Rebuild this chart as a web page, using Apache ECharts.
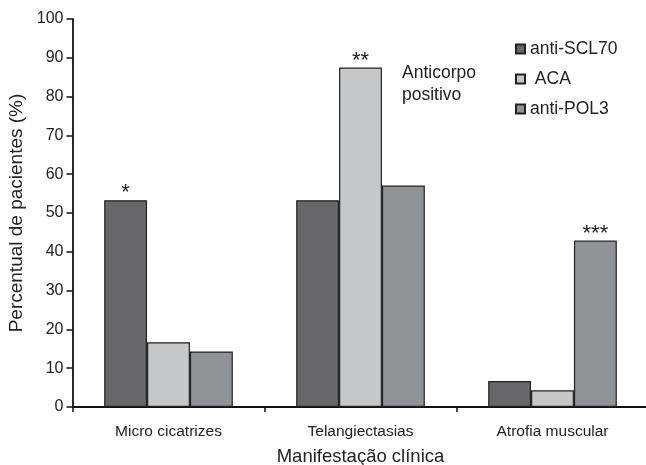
<!DOCTYPE html>
<html><head><meta charset="utf-8">
<script src="https://cdn.jsdelivr.net/npm/echarts@6/dist/echarts.min.js"></script>
<style>html,body{margin:0;padding:0;background:#fff}#c{width:646px;height:465px}</style>
</head><body><div id="c"></div>
<script>
const categories = ['Micro cicatrizes', 'Telangiectasias', 'Atrofia muscular'];
const seriesNames = ['anti-SCL70', ' ACA', 'anti-POL3'];
const antiSCL70 = [53.3, 53.3, 6.7];
const aca = [16.7, 87.5, 4.3];
const antiPOL3 = [14.3, 57.1, 42.9];
const starsSCL70 = ['*', '', ''];
const starsACA = ['', '**', ''];
const starsPOL3 = ['', '', '***'];
const yTicks = [0, 10, 20, 30, 40, 50, 60, 70, 80, 90, 100];

const colors = ['#67676a', '#c6c7c9', '#919295'];
const font = '"Liberation Sans", Arial, sans-serif';
const values = [antiSCL70, aca, antiPOL3];
const stars = [starsSCL70, starsACA, starsPOL3];

const chart = echarts.init(document.getElementById('c'));
chart.setOption({
  animation: false,
  textStyle: { fontFamily: font },
  grid: { left: 72.5, width: 576, top: 19, bottom: 58, containLabel: false, outerBoundsMode: 'none' },
  legend: {
    orient: 'vertical', left: 515, top: 40, padding: 0,
    itemWidth: 9, itemHeight: 9, itemGap: 12,
    icon: 'rect',
    textStyle: { fontFamily: font, fontSize: 17.5, color: '#222' },
    data: seriesNames
  },
  graphic: [{
    type: 'text', left: 402, top: 62,
    style: { text: 'Anticorpo\npositivo', fontFamily: font, fontSize: 17.5, fill: '#222', lineHeight: 22 }
  }],
  xAxis: {
    type: 'category', data: categories,
    name: 'Manifestação clínica', nameLocation: 'middle', nameGap: 40,
    nameTextStyle: { fontFamily: font, fontSize: 18.5, color: '#222' },
    axisLine: { lineStyle: { color: '#111', width: 1.8 } },
    axisTick: { show: true, length: 5, lineStyle: { color: '#111', width: 1.5 } },
    axisLabel: { fontFamily: font, fontSize: 15.5, color: '#222', margin: 17 }
  },
  yAxis: {
    type: 'value', min: yTicks[0], max: yTicks[yTicks.length - 1], interval: 10,
    name: 'Percentual de pacientes (%)', nameLocation: 'middle', nameGap: 46,
    nameTextStyle: { fontFamily: font, fontSize: 19, color: '#222' },
    splitLine: { show: false },
    axisLine: { show: true, lineStyle: { color: '#111', width: 1.8 } },
    axisTick: { show: true, length: 6, lineStyle: { color: '#111', width: 1.5 } },
    axisLabel: { fontFamily: font, fontSize: 16, color: '#222', margin: 9 }
  },
  series: seriesNames.map((n, i) => ({
    name: n, type: 'bar', data: values[i],
    barGap: '0%', barCategoryGap: '33%',
    itemStyle: { color: colors[i], borderColor: '#222', borderWidth: 1.2 },
    label: {
      show: true, position: 'top', distance: -4,
      formatter: p => stars[i][p.dataIndex],
      fontFamily: font, fontSize: 22, color: '#222'
    }
  }))
});
</script></body></html>
